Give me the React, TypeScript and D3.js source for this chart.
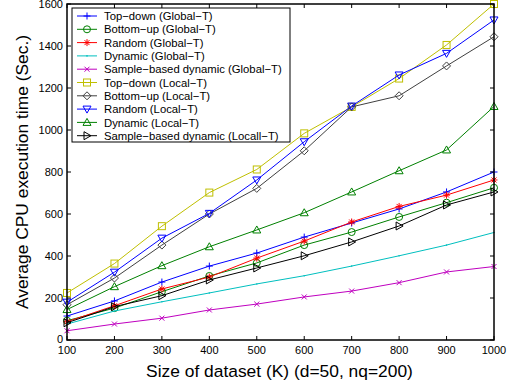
import * as d3 from 'd3';
import React from 'react';

const sizes = [100, 200, 300, 400, 500, 600, 700, 800, 900, 1000];
const yTicks = [0, 200, 400, 600, 800, 1000, 1200, 1400, 1600];

const topDownGlobal = [114, 186, 276, 352, 414, 490, 557, 624, 705, 800];
const bottomUpGlobal = [92, 152, 230, 305, 367, 452, 514, 586, 654, 725];
const randomGlobal = [87, 163, 243, 300, 390, 471, 562, 636, 690, 762];
const dynamicGlobal = [76, 138, 182, 224, 267, 306, 352, 401, 452, 512];
const sampleGlobal = [44, 76, 104, 143, 171, 205, 233, 273, 324, 350];
const topDownLocal = [224, 364, 542, 702, 812, 984, 1110, 1245, 1405, 1600];
const bottomUpLocal = [168, 295, 452, 600, 722, 901, 1110, 1163, 1305, 1444];
const randomLocal = [180, 323, 485, 603, 762, 944, 1114, 1262, 1365, 1524];
const dynamicLocal = [145, 254, 354, 444, 524, 606, 705, 806, 905, 1112];
const sampleLocal = [82, 159, 211, 286, 343, 401, 467, 543, 643, 705];

const seriesNames = [
    'Top\u2212down (Global\u2212T)',
    'Bottom\u2212up (Global\u2212T)',
    'Random (Global\u2212T)',
    'Dynamic (Global\u2212T)',
    'Sample\u2212based dynamic (Global\u2212T)',
    'Top\u2212down (Local\u2212T)',
    'Bottom\u2212up (Local\u2212T)',
    'Random (Local\u2212T)',
    'Dynamic (Local\u2212T)',
    'Sample\u2212based dynamic (Locall\u2212T)',
];

const series = [
    { values: topDownGlobal, color: '#0000ff', marker: 'plus' },
    { values: bottomUpGlobal, color: '#008000', marker: 'circle' },
    { values: randomGlobal, color: '#ff0000', marker: 'star' },
    { values: dynamicGlobal, color: '#00bfbf', marker: 'point' },
    { values: sampleGlobal, color: '#bf00bf', marker: 'x' },
    { values: topDownLocal, color: '#bfbf00', marker: 'square' },
    { values: bottomUpLocal, color: '#404040', marker: 'diamond' },
    { values: randomLocal, color: '#0000ff', marker: 'tridown' },
    { values: dynamicLocal, color: '#008000', marker: 'triup' },
    { values: sampleLocal, color: '#000000', marker: 'triright' },
];

const W = 512;
const H = 387;
const left = 67;
const right = 494;
const top = 4;
const bottom = 340;

const xScale = d3.scaleLinear().domain([100, 1000]).range([left, right]);
const yScale = d3.scaleLinear().domain([0, 1600]).range([bottom, top]);

const font = '"Liberation Sans", Arial, Helvetica, sans-serif';

function Marker({ type, x, y, color }: { type: string; x: number; y: number; color: string }) {
    const s = 3.5;
    const common = { fill: 'none', stroke: color, strokeWidth: 1 };
    switch (type) {
        case 'plus':
            return <path d={`M${x - s},${y}H${x + s}M${x},${y - s}V${y + s}`} {...common} />;
        case 'circle':
            return <circle cx={x} cy={y} r={s} {...common} />;
        case 'star':
            return (
                <path
                    d={`M${x - s},${y}H${x + s}M${x},${y - s}V${y + s}M${x - 2.5},${y - 2.5}L${x + 2.5},${y + 2.5}M${x - 2.5},${y + 2.5}L${x + 2.5},${y - 2.5}`}
                    {...common}
                />
            );
        case 'point':
            return <circle cx={x} cy={y} r={0.8} fill={color} />;
        case 'x':
            return <path d={`M${x - 2.5},${y - 2.5}L${x + 2.5},${y + 2.5}M${x - 2.5},${y + 2.5}L${x + 2.5},${y - 2.5}`} {...common} />;
        case 'square':
            return <rect x={x - s} y={y - s} width={2 * s} height={2 * s} {...common} />;
        case 'diamond':
            return <path d={`M${x},${y - 4}L${x + 4},${y}L${x},${y + 4}L${x - 4},${y}Z`} {...common} />;
        case 'tridown':
            return <path d={`M${x - 4},${y - 3}L${x + 4},${y - 3}L${x},${y + 4}Z`} {...common} />;
        case 'triup':
            return <path d={`M${x - 4},${y + 3}L${x + 4},${y + 3}L${x},${y - 4}Z`} {...common} />;
        case 'triright':
            return <path d={`M${x - 3},${y - 4}L${x - 3},${y + 4}L${x + 4},${y}Z`} {...common} />;
        default:
            return null;
    }
}

export default function App() {
    const line = d3.line<number>()
        .x((_d, i) => xScale(sizes[i]))
        .y(d => yScale(d));

    // legend box
    const legX = 72;
    const legY = 8;
    const legW = 218;
    const rowH = 13.3;
    const legH = 134;

    return (
        <svg width={W} height={H} style={{ position: 'absolute', left: 0, top: 0, background: '#fff' }} fontFamily={font}>
            <rect x={0} y={0} width={W} height={H} fill="#fff" />

            {series.map((s, i) => (
                <g key={i}>
                    <path d={line(s.values) || ''} fill="none" stroke={s.color} strokeWidth={1} />
                    {s.values.map((v, j) => (
                        <Marker key={j} type={s.marker} x={xScale(sizes[j])} y={yScale(v)} color={s.color} />
                    ))}
                </g>
            ))}

            {/* box + inward ticks, matlab style */}
            <rect x={left} y={top} width={right - left} height={bottom - top} fill="none" stroke="#000" strokeWidth={1.5} />
            {sizes.map(t => (
                <g key={'x' + t}>
                    <line x1={xScale(t)} x2={xScale(t)} y1={bottom} y2={bottom - 4} stroke="#000" />
                    <line x1={xScale(t)} x2={xScale(t)} y1={top} y2={top + 4} stroke="#000" />
                    <text x={xScale(t)} y={354} fontSize={11} textAnchor="middle">{t}</text>
                </g>
            ))}
            {yTicks.map(t => (
                <g key={'y' + t}>
                    <line x1={left} x2={left + 4} y1={yScale(t)} y2={yScale(t)} stroke="#000" />
                    <line x1={right} x2={right - 4} y1={yScale(t)} y2={yScale(t)} stroke="#000" />
                    <text x={63} y={t === 0 ? yScale(t) + 2.5 : yScale(t) + 4} fontSize={11} textAnchor="end">{t}</text>
                </g>
            ))}

            <text x={279.5} y={377} fontSize={17.4} textAnchor="middle">
                Size of dataset (K) (d=50, nq=200)
            </text>
            <text transform={`translate(28,${(top + bottom) / 2}) rotate(-90)`} fontSize={17.4} textAnchor="middle">
                Average CPU execution time (Sec.)
            </text>

            <rect x={legX} y={legY} width={legW} height={legH} fill="#fff" stroke="#000" strokeWidth={1} />
            {series.map((s, i) => {
                const ly = legY + 8 + i * rowH;
                return (
                    <g key={'l' + i}>
                        <line x1={77} x2={97} y1={ly} y2={ly} stroke={s.color} />
                        <Marker type={s.marker} x={87} y={ly} color={s.color} />
                        <text x={104} y={ly + 4.1} fontSize={11.3}>{seriesNames[i]}</text>
                    </g>
                );
            })}
        </svg>
    );
}
